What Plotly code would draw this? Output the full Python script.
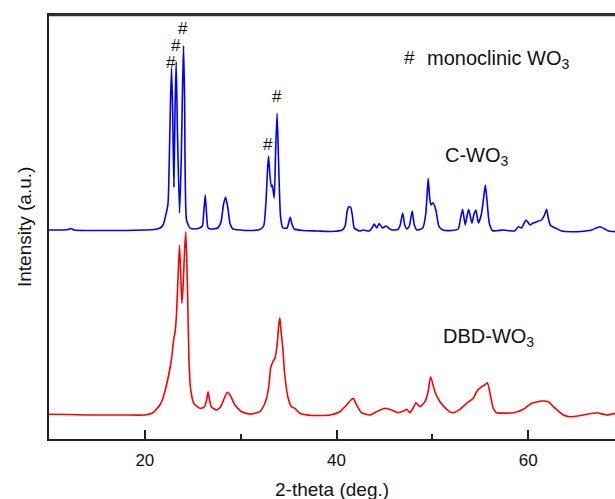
import plotly.graph_objects as go

# ---- data (2-theta in degrees, intensity in arbitrary units, curves already offset) ----
c_wo3_theta = [10.0, 11.5, 12.0, 12.3, 12.6, 14.0, 16.0, 18.0, 20.0, 21.0, 21.6, 21.9,
               22.4, 22.55, 22.68, 22.79, 22.9, 23.03, 23.15, 23.27, 23.4, 23.62, 23.8,
               23.93, 24.04, 24.15, 24.35, 24.7, 25.2, 25.7, 26.0, 26.15, 26.3, 26.45,
               26.6, 27.0, 27.6, 27.95, 28.2, 28.42, 28.65, 28.9, 29.2, 30.0, 31.0, 32.0,
               32.4, 32.65, 32.8, 32.91, 33.05, 33.2, 33.3, 33.5, 33.65, 33.8, 33.95,
               34.16, 34.4, 34.85, 35.0, 35.17, 35.35, 35.6, 36.5, 38.0, 39.5, 40.6,
               40.9, 41.1, 41.25, 41.47, 41.65, 41.85, 42.4, 42.8, 43.4, 43.7, 43.93,
               44.18, 44.46, 44.8, 45.16, 45.5, 45.8, 46.4, 46.65, 46.9, 47.12, 47.35,
               47.6, 47.9, 48.12, 48.4, 49.0, 49.3, 49.45, 49.57, 49.72, 49.85, 50.03,
               50.2, 50.37, 50.7, 51.1, 52.0, 52.7, 52.95, 53.16, 53.43, 53.62, 53.79,
               54.13, 54.35, 54.55, 54.8, 55.1, 55.35, 55.53, 55.7, 55.94, 56.3, 57.4,
               58.6, 58.96, 59.3, 59.77, 60.2, 60.53, 60.9, 61.4, 61.7, 61.93, 62.1,
               62.3, 62.6, 62.9, 63.5, 64.5, 65.5, 66.6, 67.1, 67.5, 68.0, 68.4, 69.1]
c_wo3_int = [209, 209, 209.5, 210.5, 209, 208.5, 208.5, 208.5, 209, 209.5, 211, 214,
             234, 279, 339, 370.7, 329, 252.3, 329, 377.3, 309, 226, 279,
             349, 393.3, 339, 219, 211, 210, 211, 213, 227, 244, 224,
             211, 210, 211, 217, 234, 242, 232, 215, 210, 209, 208.5, 209.5,
             213, 239, 269, 283, 264, 252, 254, 241, 289, 325.7, 279,
             222.3, 211, 211, 216, 221.7, 215, 210, 208.5, 208, 207.5, 209,
             213, 227, 232, 232, 224, 211, 208, 209, 208, 211, 215,
             211, 215.5, 211, 213, 210.5, 209, 209.5, 214, 226, 214, 210,
             213, 228, 214, 209, 211, 224, 244, 260.7, 241, 234, 236.3,
             234, 229, 212.3, 209, 208.5, 210, 221, 229.7, 214, 223, 229.7,
             216, 225, 229, 216, 224, 241, 254, 239, 216, 208.3, 209,
             208, 212.3, 211, 219, 214, 216, 217.3, 219, 224, 229.7, 221,
             214, 212, 210.7, 208, 207.3, 207.5, 209, 211, 212.3, 210, 208, 207.3]

dbd_wo3_theta = [10.0, 12.0, 14.0, 16.0, 18.0, 20.0, 20.8, 21.57, 21.9, 22.26, 22.55,
                 22.79, 23.03, 23.14, 23.3, 23.45, 23.62, 23.75, 23.86, 24.0, 24.15,
                 24.28, 24.46, 24.6, 24.77, 25.11, 25.74, 26.2, 26.45, 26.6, 26.75,
                 26.95, 27.48, 27.9, 28.3, 28.6, 28.9, 29.4, 30.1, 30.96, 32.0, 32.4,
                 32.7, 32.95, 33.12, 33.35, 33.57, 33.8, 33.97, 34.09, 34.2, 34.37,
                 34.6, 34.96, 35.3, 35.66, 36.18, 37.5, 39.3, 40.35, 41.05, 41.5,
                 41.74, 42.1, 42.6, 43.49, 44.18, 45.05, 45.75, 46.44, 47.0, 47.32,
                 47.66, 48.0, 48.29, 48.7, 49.23, 49.55, 49.82, 50.27, 50.8, 51.5,
                 52.12, 52.88, 53.58, 54.27, 54.62, 55.15, 55.45, 55.74, 56.09, 56.36,
                 56.71, 58.45, 59.5, 60.37, 61.41, 62.1, 62.63, 63.67, 64.37, 65.75,
                 67.15, 68.2, 69.07]
dbd_wo3_int = [24.7, 24.5, 24, 24, 24, 24, 26, 34, 41, 54, 67,
               80.7, 100.7, 105.7, 124, 159, 194, 164, 135.7, 154, 189,
               207.3, 147.3, 80.7, 50.7, 35.7, 30.7, 32, 39, 47.3, 39,
               32, 29, 32, 41, 46.7, 44, 34, 27.3, 25, 27.3, 33,
               40.7, 54, 70.7, 77, 80.7, 94, 114, 121.3, 109, 94,
               64, 40.7, 32.3, 30.7, 25.7, 23.5, 24, 27.3, 34, 39,
               40.7, 34, 26.3, 24, 27.3, 30.7, 29, 26.3, 28, 29.7,
               26.3, 31, 36.3, 32.3, 37.3, 47, 62.3, 47.3, 37.3, 29.7,
               26.3, 29.7, 35.7, 40.7, 47.3, 52.3, 54, 56.3, 42.3, 30.7,
               26.3, 26.3, 29.7, 35.7, 38, 37.3, 32.3, 24, 22.3, 24,
               26.3, 24, 25.7]

# monoclinic WO3 reflections marked with '#' (2-theta, label height)
marked_theta = [22.71, 23.24, 24.0, 32.87, 33.81]
marked_height = [377, 394, 411, 295, 343]

x_ticks = [20, 40, 60]

FONT = "Liberation Sans, Arial, sans-serif"
INK = "#111"
AXIS = "#222"

fig = go.Figure()
fig.add_trace(go.Scatter(x=c_wo3_theta, y=c_wo3_int, mode="lines",
                         line=dict(color="#0000ff", width=1.6, shape="spline", smoothing=0.5),
                         name="C-WO3"))
fig.add_trace(go.Scatter(x=dbd_wo3_theta, y=dbd_wo3_int, mode="lines",
                         line=dict(color="#ff0000", width=1.6, shape="spline", smoothing=0.5),
                         name="DBD-WO3"))

annotations = []
for tx, ty in zip(marked_theta, marked_height):
    annotations.append(dict(x=tx, y=ty, xref="x", yref="y", text="#", showarrow=False,
                            font=dict(family=FONT, size=17, color=INK)))
annotations += [
    dict(x=46.8, y=382, xref="x", yref="y", text="#", showarrow=False, xanchor="left",
         font=dict(family=FONT, size=19, color=INK)),
    dict(x=49.2, y=380, xref="x", yref="y", text="monoclinic WO<sub>3</sub>",
         showarrow=False, xanchor="left", font=dict(family=FONT, size=20, color=INK)),
    dict(x=51.1, y=283, xref="x", yref="y", text="C-WO<sub>3</sub>",
         showarrow=False, xanchor="left", font=dict(family=FONT, size=20, color=INK)),
    dict(x=50.9, y=102, xref="x", yref="y", text="DBD-WO<sub>3</sub>",
         showarrow=False, xanchor="left", font=dict(family=FONT, size=20, color=INK)),
    # axis titles
    dict(x=0.5, y=0, xref="paper", yref="paper", text="2-theta (deg.)", showarrow=False,
         xanchor="center", yanchor="middle", yshift=-50,
         font=dict(family=FONT, size=19, color=INK)),
    dict(x=0, y=0.5, xref="paper", yref="paper", text="Intensity (a.u.)", showarrow=False,
         xanchor="center", yanchor="middle", xshift=-25, textangle=-90,
         font=dict(family=FONT, size=19, color=INK)),
]

fig.update_layout(
    width=615, height=499,
    margin=dict(l=49, r=0, t=15, b=60, autoexpand=False),
    paper_bgcolor="white", plot_bgcolor="white",
    showlegend=False,
    font=dict(family=FONT, color=INK),
    annotations=annotations,
    shapes=[dict(type="line", xref="paper", yref="paper", x0=0, x1=1.0, y0=1, y1=1,
                 line=dict(color="#333333", width=2.5), layer="above")],
    xaxis=dict(range=[10, 69.06], tickvals=x_ticks, ticks="inside", ticklen=9,
               tickwidth=1.5, tickcolor=AXIS, showline=True, linecolor=AXIS,
               linewidth=2, mirror=True, showgrid=False, zeroline=False,
               automargin=False, ticklabelstandoff=5,
               tickfont=dict(family=FONT, size=17, color=INK),
               minor=dict(tickvals=[30, 50], ticks="inside", ticklen=5, tickwidth=1.5,
                          tickcolor=AXIS, showgrid=False)),
    # top frame line drawn as a second (label-free) x axis on the top side
    xaxis2=dict(overlaying="x", side="top", anchor="y", range=[10, 69.06],
                showline=True, linecolor=AXIS, linewidth=2, ticks="",
                showticklabels=False, showgrid=False, zeroline=False, automargin=False),
    yaxis=dict(range=[0, 424], showticklabels=False, ticks="", showline=True,
               linecolor=AXIS, linewidth=2, showgrid=False, zeroline=False,
               automargin=False),
)

fig.write_html("out.html", config={"displayModeBar": False},
               post_script="document.body.style.margin='0';document.body.style.overflow='hidden';")
